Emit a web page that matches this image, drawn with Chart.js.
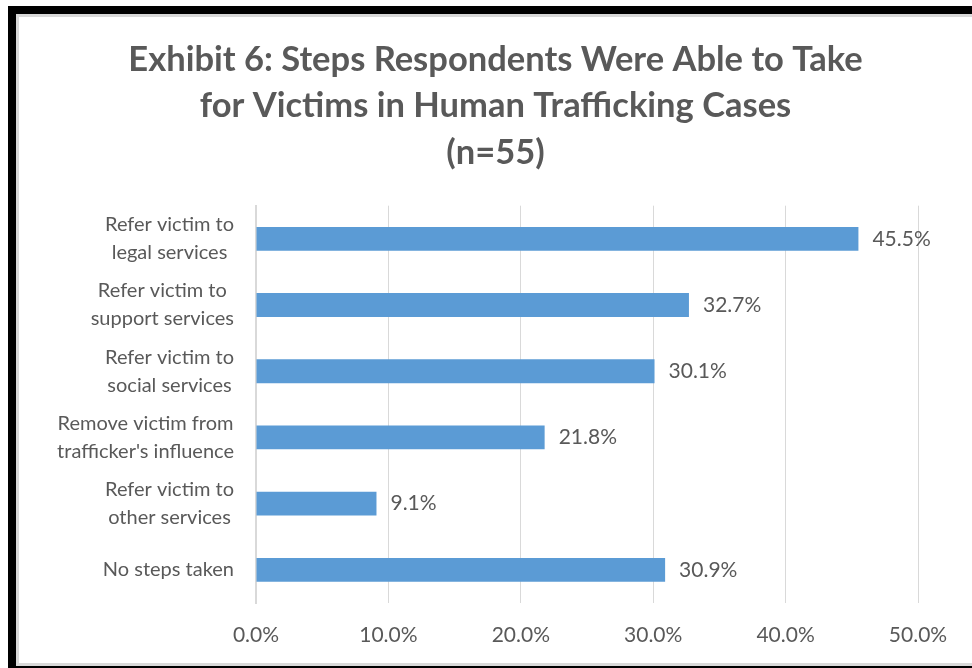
<!DOCTYPE html>
<html>
<head>
<meta charset="utf-8">
<script src="https://cdn.jsdelivr.net/npm/chart.js@4"></script>
<style>
  html, body { margin: 0; padding: 0; background: #fff; overflow: hidden; }
  body { width: 972px; height: 668px; position: relative; }
  .f { position: absolute; }
  #wrap { position: absolute; left: 19px; top: 17px; width: 953px; height: 646px; }
</style>
</head>
<body>
<div class="f" style="left:8px;top:6px;width:964px;height:8px;background:#000"></div>
<div class="f" style="left:8px;top:6px;width:8px;height:662px;background:#000"></div>
<div class="f" style="left:16px;top:14px;width:956px;height:3px;background:#d9d9d9"></div>
<div class="f" style="left:16px;top:14px;width:3px;height:652px;background:#d9d9d9"></div>
<div class="f" style="left:16px;top:663px;width:956px;height:3px;background:#d9d9d9"></div>
<div class="f" style="left:8px;top:666px;width:964px;height:2px;background:#000"></div>
<div id="wrap"><canvas id="stepsChart"></canvas></div>
<script>
// chart data
const categories = [
    ['Refer victim to', 'legal services'],
    ['Refer victim to', 'support services'],
    ['Refer victim to', 'social services'],
    ['Remove victim from', "trafficker's influence"],
    ['Refer victim to', 'other services'],
    'No steps taken'
];
const percentValues = [45.5, 32.7, 30.1, 21.8, 9.1, 30.9];
const xTicks = [0, 10, 20, 30, 40, 50];
const titleLines = [
    'Exhibit 6: Steps Respondents Were Able to Take',
    'for Victims in Human Trafficking Cases',
    '(n=55)'
];

const textColor = '#595959';
const fontFamily = 'Lato, "Open Sans", sans-serif';

// value labels at the end of each bar
const barLabels = {
    id: 'barLabels',
    afterDatasetsDraw(chart) {
        const ctx = chart.ctx;
        const meta = chart.getDatasetMeta(0);
        ctx.save();
        ctx.font = '21px ' + fontFamily;
        ctx.fillStyle = textColor;
        ctx.textAlign = 'left';
        ctx.textBaseline = 'middle';
        meta.data.forEach((bar, i) => {
            ctx.fillText(percentValues[i].toFixed(1) + '%', bar.x + 14, bar.y);
        });
        ctx.restore();
    }
};

// category labels: block right-aligned, lines centred inside the block (like Excel)
const categoryLabels = {
    id: 'categoryLabels',
    afterDraw(chart) {
        const ctx = chart.ctx;
        const yScale = chart.scales.y;
        const lineH = 28;
        const right = chart.chartArea.left - 22;
        ctx.save();
        ctx.font = '20px ' + fontFamily;
        ctx.fillStyle = textColor;
        ctx.textAlign = 'center';
        ctx.textBaseline = 'middle';
        categories.forEach((label, i) => {
            const lines = Array.isArray(label) ? label : [label];
            const widest = Math.max(...lines.map(l => ctx.measureText(l).width));
            const cx = right - widest / 2;
            const y0 = yScale.getPixelForTick(i) - (lines.length - 1) * lineH / 2;
            lines.forEach((l, j) => ctx.fillText(l, cx, y0 + j * lineH));
        });
        ctx.restore();
    }
};

new Chart(document.getElementById('stepsChart').getContext('2d'), {
    type: 'bar',
    data: {
        labels: categories,
        datasets: [{
            data: percentValues,
            backgroundColor: '#5b9bd5',
            borderWidth: 0,
            barPercentage: 0.36,
            categoryPercentage: 1
        }]
    },
    plugins: [barLabels, categoryLabels],
    options: {
        indexAxis: 'y',
        responsive: true,
        maintainAspectRatio: false,
        animation: false,
        layout: {
            padding: 0
        },
        plugins: {
            legend: { display: false },
            tooltip: { enabled: false },
            title: {
                display: true,
                text: titleLines,
                color: textColor,
                font: { family: fontFamily, size: 34.5, weight: 'bold', lineHeight: 1.34 },
                padding: { top: 20, bottom: 30 }
            }
        },
        scales: {
            x: {
                min: 0,
                max: 50,
                afterBuildTicks(scale) {
                    scale.ticks = xTicks.map(v => ({ value: v }));
                },
                afterFit(scale) {
                    scale.height = 60;
                },
                ticks: {
                    color: textColor,
                    font: { family: fontFamily, size: 21 },
                    padding: 20,
                    callback: v => v.toFixed(1) + '%'
                },
                grid: {
                    color: '#d9d9d9',
                    lineWidth: 1,
                    drawTicks: false
                },
                border: { display: false }
            },
            y: {
                afterFit(scale) {
                    scale.width = 237;
                },
                ticks: { display: false },
                grid: { display: false, drawTicks: false },
                border: { display: true, color: '#d9d9d9', width: 2 }
            },
            // empty spacer on the right so the plot ends at 50% like the original
            spacer: {
                axis: 'y',
                type: 'category',
                position: 'right',
                afterFit(scale) {
                    scale.width = 54;
                },
                ticks: { display: false },
                grid: { display: false, drawTicks: false },
                border: { display: false }
            }
        }
    }
});
</script>
</body>
</html>
